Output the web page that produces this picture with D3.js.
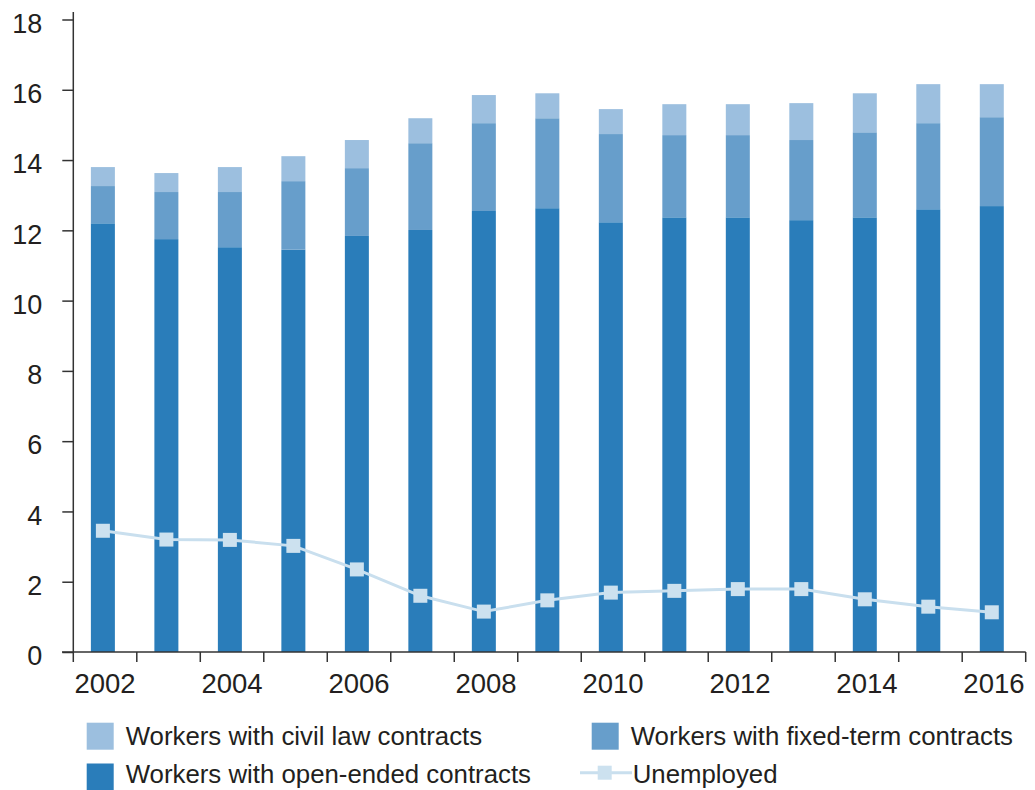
<!DOCTYPE html>
<html><head><meta charset="utf-8">
<script src="https://cdn.jsdelivr.net/npm/d3@7"></script>
<style>body{margin:0;background:#fff}svg{display:block}text{font-family:"Liberation Sans",Arial,sans-serif;fill:#231f20}</style>
</head><body><svg id="c" width="1035" height="790"></svg>
<script>
const years = [2002,2003,2004,2005,2006,2007,2008,2009,2010,2011,2012,2013,2014,2015,2016];
const openEnded = [12.20,11.75,11.52,11.45,11.84,12.01,12.55,12.63,12.23,12.37,12.37,12.29,12.37,12.60,12.69];
const fixedTerm = [1.06,1.34,1.57,1.95,1.93,2.47,2.50,2.56,2.51,2.34,2.34,2.28,2.42,2.45,2.53];
const civilLaw = [0.54,0.54,0.71,0.71,0.80,0.71,0.80,0.71,0.71,0.88,0.88,1.05,1.11,1.11,0.94];
const unemployed = [3.45,3.20,3.19,3.02,2.35,1.60,1.15,1.47,1.69,1.74,1.79,1.79,1.50,1.29,1.13];
const yTicks = [0,2,4,6,8,10,12,14,16,18];
const xLabels = [2002,2004,2006,2008,2010,2012,2014,2016];
const seriesNames = ["Workers with open-ended contracts","Workers with fixed-term contracts","Workers with civil law contracts"];
const colors = ["#2a7dba","#679ecb","#9cbfdf"];
const lineColor = "#c9dfee", markerColor = "#cce1ef";

const svg = d3.select("#c");
const x = d3.scaleBand().domain(years).range([73.3,1025.7]).padding(0);
const y = d3.scaleLinear().domain([0,18]).range([652,19.5]);
const bw = x.bandwidth()*0.378, bo = x.bandwidth()*0.277;
const cx = d => x(d) + bo + bw/2;

const table = years.map((yr,i)=>({year:yr, open:openEnded[i], fixed:fixedTerm[i], civil:civilLaw[i]}));
const stack = d3.stack().keys(["open","fixed","civil"])(table);
svg.append("g").selectAll("g").data(stack).join("g").attr("fill",(d,i)=>colors[i])
  .selectAll("rect").data(d=>d).join("rect")
  .attr("x",d=>x(d.data.year)+bo).attr("width",bw)
  .attr("y",d=>y(d[1])).attr("height",d=>y(d[0])-y(d[1]));

// line
const line = d3.line().x((d,i)=>cx(years[i])).y(d=>y(d));
svg.append("path").datum(unemployed).attr("d",line).attr("fill","none").attr("stroke",lineColor).attr("stroke-width",3);
svg.append("g").selectAll("rect").data(unemployed).join("rect")
  .attr("x",(d,i)=>cx(years[i])-7).attr("y",d=>y(d)-7).attr("width",14).attr("height",14).attr("fill",markerColor);

// y axis
const ya = svg.append("g").attr("transform","translate(73.3,0)")
  .call(d3.axisLeft(y).tickValues(yTicks).tickSize(11).tickPadding(20).tickFormat(d3.format("d")));
ya.select(".domain").attr("d","M0,12V652").attr("stroke","#333").attr("stroke-width",1.5);
ya.selectAll(".tick line").attr("stroke","#333").attr("stroke-width",1.5);
ya.selectAll(".tick text").attr("font-size",27).attr("dy",null).attr("y",12.8).attr("fill","#231f20").style("font-family",'"Liberation Sans",Arial,sans-serif');

// x axis
const xa = svg.append("g").attr("transform","translate(0,652)")
  .call(d3.axisBottom(x).tickSize(0).tickFormat(d=>xLabels.includes(d)?d:""));
xa.select(".domain").attr("d","M62,0H1025.7").attr("stroke","#333").attr("stroke-width",1.5);
xa.selectAll(".tick text").attr("font-size",27.5).attr("dy",null).attr("y",40.5).attr("fill","#231f20").style("font-family",'"Liberation Sans",Arial,sans-serif');
const bounds = years.map(d=>x(d)).concat([x(years[years.length-1])+x.bandwidth()]);
xa.append("g").selectAll("line").data(bounds).join("line")
  .attr("x1",d=>d).attr("x2",d=>d).attr("y1",0).attr("y2",10).attr("stroke","#333").attr("stroke-width",1.5);

// legend
const lg = svg.append("g");
const items = [
  {name:seriesNames[2], color:colors[2], x:86.7, y:722.7, ty:745},
  {name:seriesNames[1], color:colors[1], x:591.7, y:722.7, ty:745},
  {name:seriesNames[0], color:colors[0], x:86.7, y:763.5, ty:782.5}
];
items.forEach(it=>{
  lg.append("rect").attr("x",it.x).attr("y",it.y).attr("width",27).attr("height",27).attr("fill",it.color);
  lg.append("text").attr("x",it.x+39).attr("y",it.ty).attr("font-size",25.8).text(it.name);
});
lg.append("line").attr("x1",580).attr("x2",632).attr("y1",772.7).attr("y2",772.7).attr("stroke",lineColor).attr("stroke-width",3);
lg.append("rect").attr("x",597.7).attr("y",765.7).attr("width",14).attr("height",14).attr("fill",markerColor);
lg.append("text").attr("x",632.7).attr("y",782.5).attr("font-size",25.8).text("Unemployed");
</script></body></html>
